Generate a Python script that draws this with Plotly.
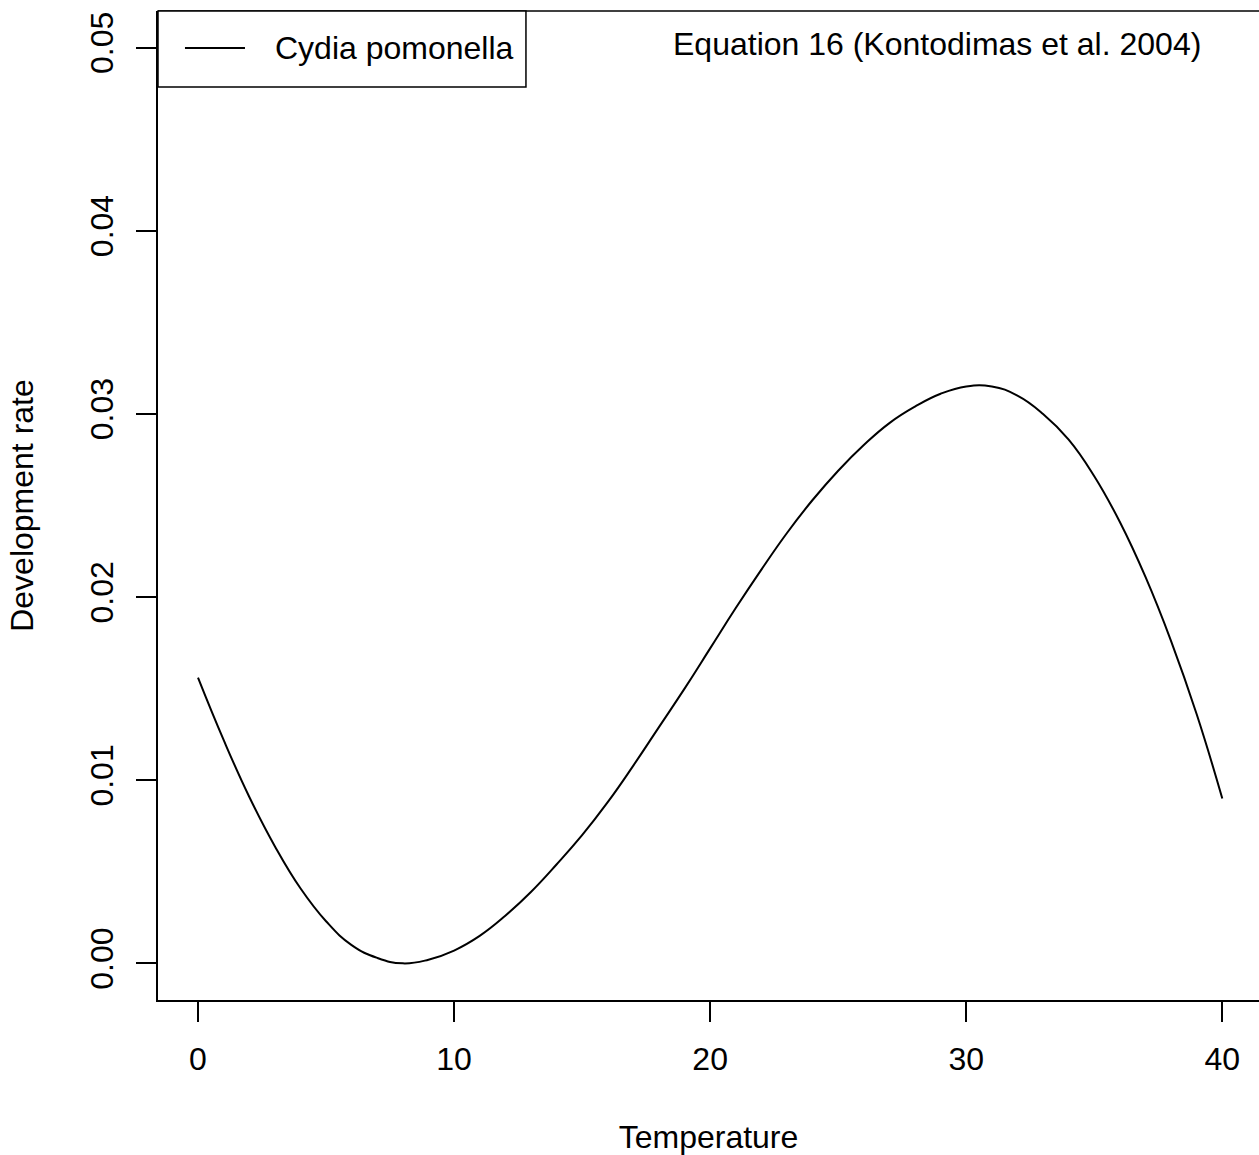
import plotly.graph_objects as go

# Development rate of Cydia pomonella across temperature (Equation 16, Kontodimas et al. 2004)
temperature = list(range(0, 41))
dev_rate = [0.0156, 0.0122, 0.0091, 0.0064, 0.0041, 0.0023, 0.0010, 0.0003, 0.0000,
            0.0002, 0.0007, 0.0015, 0.0026, 0.0039, 0.0054, 0.0070, 0.0088, 0.0108,
            0.0129, 0.0150, 0.0172, 0.0194, 0.0215, 0.0235, 0.0253, 0.0269, 0.0283,
            0.0295, 0.0304, 0.0311, 0.0315, 0.0315, 0.0310, 0.0300, 0.0286, 0.0266,
            0.0241, 0.0211, 0.0176, 0.0136, 0.0090]

species = "Cydia pomonella"
equation_note = "Equation 16 (Kontodimas et al. 2004)"

x_ticks = [0, 10, 20, 30, 40]
y_ticks = [0.00, 0.01, 0.02, 0.03, 0.04, 0.05]
y_tick_text = ["0.00", "0.01", "0.02", "0.03", "0.04", "0.05"]

FONT = "Liberation Sans, Arial, Helvetica, sans-serif"
FS = 32

fig = go.Figure()
fig.add_trace(go.Scatter(
    x=temperature, y=dev_rate, mode="lines", name=species,
    line=dict(color="black", width=2, shape="spline", smoothing=1.3),
    showlegend=False,
))

fig.update_layout(
    width=1259, height=1155,
    margin=dict(l=158, r=0, t=11, b=155),
    paper_bgcolor="white", plot_bgcolor="white",
    font=dict(family=FONT, size=FS, color="black"),
    xaxis=dict(
        range=[-1.562, 41.433], tickvals=x_ticks, ticks="outside", ticklen=20,
        tickwidth=1.5, tickcolor="black", showline=True, linecolor="black",
        linewidth=1.5, showgrid=False, zeroline=False,
        ticklabelstandoff=10,
        title=dict(text="Temperature", standoff=51, font=dict(size=FS)),
    ),
    yaxis=dict(
        range=[-0.002, 0.052], tickvals=y_ticks, ticktext=y_tick_text,
        tickangle=-90, ticks="outside", ticklen=20, tickwidth=1.5,
        tickcolor="black", showline=True, linecolor="black", linewidth=1.5,
        showgrid=False, zeroline=False, ticklabelstandoff=10,
        title=dict(text="Development rate", standoff=41, font=dict(size=FS)),
    ),
)

# top border of the plotting box
fig.add_shape(type="line", xref="paper", yref="paper", x0=0, x1=1, y0=1, y1=1,
              line=dict(color="black", width=1.5))

# legend box in the top-left corner
fig.add_shape(type="rect", xref="paper", yref="paper", x0=0, x1=0.3342,
              y0=0.9232, y1=1.0, line=dict(color="black", width=1.5),
              fillcolor="white")
fig.add_shape(type="line", xref="paper", yref="paper", x0=0.0245, x1=0.079,
              y0=0.9626, y1=0.9626, line=dict(color="black", width=2))
fig.add_annotation(text=species, xref="paper", yref="paper", x=0.1045,
                   y=0.9626, xanchor="left", yanchor="middle", showarrow=False,
                   font=dict(size=FS))

fig.add_annotation(text=equation_note, xref="paper", yref="paper", x=0.9491,
                   y=0.9671, xanchor="right", yanchor="middle", showarrow=False,
                   font=dict(size=FS))

fig.write_html("out.html")
